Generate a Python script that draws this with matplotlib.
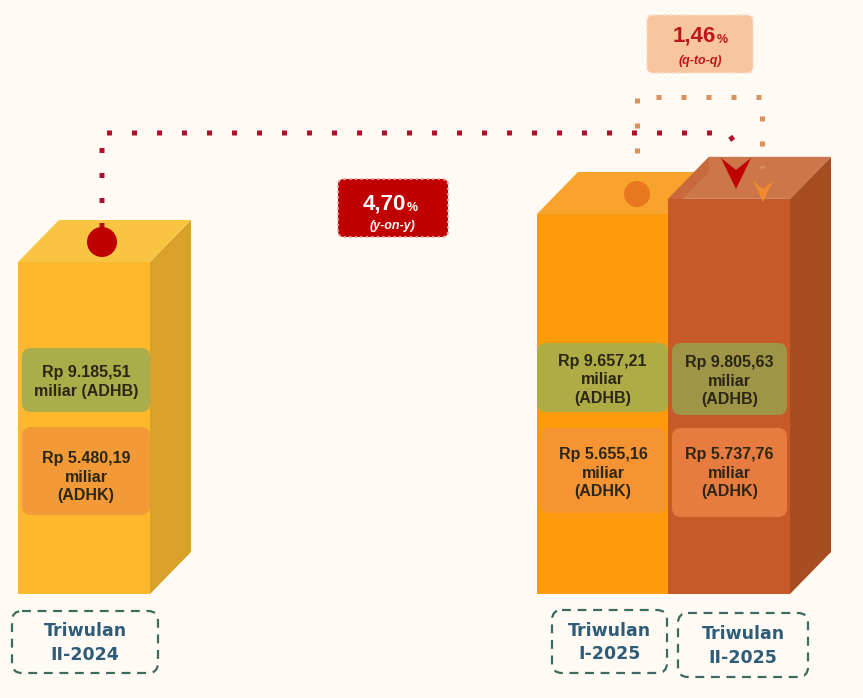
import numpy as np
import matplotlib.pyplot as plt
from matplotlib.patches import Polygon, FancyBboxPatch, Circle

# data
periods = ['Triwulan\nII-2024', 'Triwulan\nI-2025', 'Triwulan\nII-2025']
adhb = [9185.51, 9657.21, 9805.63]
adhk = [5480.19, 5655.16, 5737.76]
growth = ['4,70', '1,46']
growth_lbl = ['(y-on-y)', '(q-to-q)']


def rp(v):
    s = '{:,.2f}'.format(v)
    return 'Rp ' + s.replace(',', '#').replace('.', ',').replace('#', '.')


adhb_txt = [rp(adhb[0]) + '\nmiliar (ADHB)'] + [rp(v) + '\nmiliar\n(ADHB)' for v in adhb[1:]]
adhk_txt = [rp(v) + '\nmiliar\n(ADHK)' for v in adhk]

# style / layout (pixels)
W, H = 863, 698
base_row = 594
base_v = 5924.0
k = 0.1018          # px per Rp miliar
dx, dy = 41, 42
bar_x0 = [18, 537, 668]
bar_w = [132, 131, 122]
c_front = ['#FDB92B', '#FE9B0C', '#C75A29']
c_top = ['#F9C442', '#F8A42C', '#CD7649']
c_side = ['#D8A127', '#D98208', '#A64D22']
c_green = ['#A9AE4A', '#AEAD45', '#9F9547']
c_orange = ['#F39A38', '#F69434', '#E87B3F']
green_box = [(22, 348, 128, 64), (537, 343, 131, 69), (672, 343, 115, 72)]
orange_box = [(22, 427, 128, 88), (540, 428, 126, 85), (672, 428, 115, 89)]
green_ty = [382, 380, 381]
orange_ty = [477, 473, 473]
lab_box = [(12, 611, 146, 62), (552, 610, 115, 63), (678, 613, 130, 64)]
bg = '#FFFAF4'
txt_dark = '#2B2616'

fig = plt.figure(figsize=(W / 100, H / 100), dpi=100)
fig.patch.set_facecolor(bg)

# bars in value units
ax = fig.add_axes([0, 0, 1, 1])
ax.set_xlim(0, W)
ax.set_ylim(base_v - (H - base_row) / k, base_v + base_row / k)
ax.axis('off')
dyv = dy / k

for i in range(3):
    x0, w, v = bar_x0[i], bar_w[i], adhb[i]
    z = 2 + 4 * i
    if i != 1:
        side = [(x0 + w, base_v), (x0 + w, v), (x0 + w + dx, v + dyv), (x0 + w + dx, base_v + dyv)]
        ax.add_patch(Polygon(side, closed=True, fc=c_side[i], ec='none', zorder=z))
    top = [(x0, v), (x0 + w, v), (x0 + w + dx, v + dyv), (x0 + dx, v + dyv)]
    ax.add_patch(Polygon(top, closed=True, fc=c_top[i], ec='none', zorder=z + 1))
    ax.bar(x0, v - base_v, bottom=base_v, width=w, align='edge', color=c_front[i],
           zorder=z + 2)
    # left face of a taller neighbour peeking above this bar
    if i == 2 and adhb[2] > adhb[1]:
        lf = [(x0, adhb[1]), (x0, v), (x0 + dx, v + dyv), (x0 + dx, adhb[1] + dyv)]
        ax.add_patch(Polygon(lf, closed=True, fc='#C86A3C', ec='none', zorder=z + 1))

# overlay in pixel units
ax2 = fig.add_axes([0, 0, 1, 1])
ax2.set_xlim(0, W)
ax2.set_ylim(H, 0)
ax2.axis('off')
ax2.patch.set_alpha(0)

num_font = 'Liberation Sans'
for i in range(3):
    x, y, w, h = green_box[i]
    ax2.add_patch(FancyBboxPatch((x, y), w, h, boxstyle='round,pad=0,rounding_size=9',
                                 fc=c_green[i], ec='none'))
    ax2.text(x + w / 2, green_ty[i], adhb_txt[i], ha='center', va='center',
             fontsize=11.5, fontweight='bold', family=num_font, color=txt_dark,
             linespacing=1.3)
    x, y, w, h = orange_box[i]
    ax2.add_patch(FancyBboxPatch((x, y), w, h, boxstyle='round,pad=0,rounding_size=9',
                                 fc=c_orange[i], ec='none'))
    ax2.text(x + w / 2, orange_ty[i], adhk_txt[i], ha='center', va='center',
             fontsize=11.5, fontweight='bold', family=num_font, color=txt_dark,
             linespacing=1.3)
    x, y, w, h = lab_box[i]
    ax2.add_patch(FancyBboxPatch((x, y), w, h, boxstyle='round,pad=0,rounding_size=10',
                                 fc='none', ec='#3D6B60', lw=1.6, ls=(0, (4, 3))))
    ax2.text(x + w / 2, y + h / 2 + 1, periods[i], ha='center', va='center',
             fontsize=12.5, fontweight='bold', family='DejaVu Sans', color='#2E5C78',
             linespacing=1.4)

# y-on-y connector
red = '#B0102B'
ax2.plot([102, 102, 728, 737], [228, 133, 133, 146], color=red, lw=3.6,
         dashes=(1, 4), dash_capstyle='butt', zorder=5)
ax2.add_patch(Circle((102, 242), 15, fc='#C00000', ec='none', zorder=6))
ax2.add_patch(Polygon([(721, 158), (736, 170), (751, 158), (736, 189)], closed=True,
                      fc='#C00000', ec='none', zorder=6))

# q-to-q connector
ax2.plot([637, 637, 762, 762], [153, 97, 97, 168], color='#D9925B', lw=3.6,
         dashes=(1, 4), dash_capstyle='butt', zorder=5)
ax2.add_patch(Circle((637, 194), 13, fc='#E8771F', ec='none', zorder=6))
ax2.add_patch(Polygon([(753, 181), (763, 189), (773, 181), (763, 202)], closed=True,
                      fc='#F08A2E', ec='none', zorder=6))

# growth boxes
ax2.add_patch(FancyBboxPatch((338, 179), 110, 58, boxstyle='round,pad=0,rounding_size=6',
                             fc='#C00000', ec='#F2A5A5', lw=1.5, ls=':', zorder=7))
ax2.text(406, 204, growth[0], ha='right', va='center', fontsize=16, fontweight='bold',
         family=num_font, color='white', zorder=8)
ax2.text(407, 208, '%', ha='left', va='center', fontsize=9, fontweight='bold',
         family=num_font, color='white', zorder=8)
ax2.text(392, 226, growth_lbl[0], ha='center', va='center', fontsize=9,
         fontweight='bold', fontstyle='italic', family=num_font, color='white', zorder=8)

ax2.add_patch(FancyBboxPatch((647, 15), 106, 58, boxstyle='round,pad=0,rounding_size=6',
                             fc='#F7C69C', ec='#F3DCCB', lw=1.5, ls=':', zorder=7))
ax2.text(716, 36, growth[1], ha='right', va='center', fontsize=16, fontweight='bold',
         family=num_font, color='#C0151D', zorder=8)
ax2.text(717, 40, '%', ha='left', va='center', fontsize=9, fontweight='bold',
         family=num_font, color='#C0151D', zorder=8)
ax2.text(700, 61, growth_lbl[1], ha='center', va='center', fontsize=9,
         fontweight='bold', fontstyle='italic', family=num_font, color='#C0151D', zorder=8)

plt.savefig('out.png', dpi=100, facecolor=bg)
